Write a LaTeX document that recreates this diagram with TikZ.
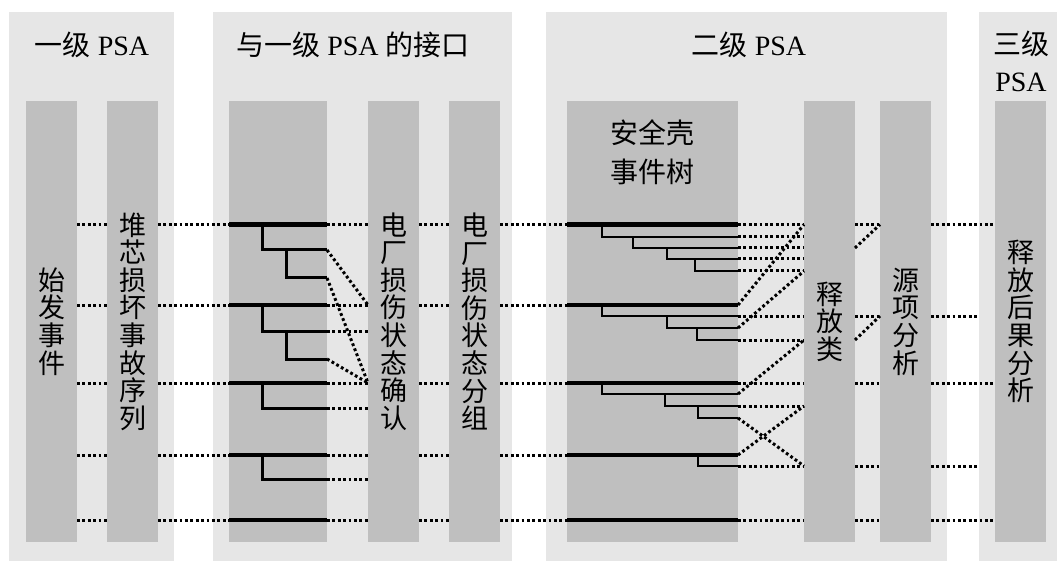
\documentclass[tikz,border=0pt]{standalone}
\usepackage{fontspec}
\setmainfont{Liberation Serif}
\newfontfamily\cjk{Noto Sans CJK SC}
\definecolor{panelgray}{HTML}{E6E6E6}
\definecolor{bargray}{HTML}{BFBFBF}
\begin{document}
\begin{tikzpicture}[x=1pt,y=-1pt,
  panel/.style={fill=panelgray, draw=none},
  barbox/.style={fill=bargray, draw=none, inner sep=0pt, outer sep=0pt,
    minimum width=51pt, minimum height=441pt, anchor=north west},
  dotline/.style={line width=3pt, dash pattern=on 2.8pt off 2.6pt},
  mainline/.style={line width=4.6pt},
  branchA/.style={line width=3pt},
  branchB/.style={line width=2.5pt},
  vtext/.style={align=center, inner sep=0pt, font=\cjk\fontsize{27}{27.6}\selectfont},
  ttl/.style={inner sep=0pt, font=\fontsize{28}{37}\selectfont}]
\useasboundingbox (0,0) rectangle (1057,561);
% panels
\fill[panel] (9,12) rectangle (174,561);
\fill[panel] (213,12) rectangle (512,561);
\fill[panel] (546,12) rectangle (947,561);
\fill[panel] (979,12) rectangle (1057,561);
\coordinate (p4w) at (979,0);
% bars
\node[barbox] (b1) at (26,101) {};
\node[barbox] (b2) at (107,101) {};
\node[barbox, minimum width=98pt] (et1) at (229,101) {};
\node[barbox] (cf) at (368,101) {};
\node[barbox] (gp) at (449,101) {};
\node[barbox, minimum width=171pt] (et2) at (567,101) {};
\node[barbox] (rc) at (804,101) {};
\node[barbox] (st) at (880,101) {};
\node[barbox] (l3) at (995,101) {};
% dotted connections, level 1 and interface
\foreach \y in {224.5,305,383,455,520}{
  \draw[dotline] (b1.east |- 0,\y) -- (b2.west |- 0,\y);
  \draw[dotline] (b2.east |- 0,\y) -- (et1.west |- 0,\y);
  \draw[dotline] (cf.east |- 0,\y) -- (gp.west |- 0,\y);
  \draw[dotline] (gp.east |- 0,\y) -- (et2.west |- 0,\y);
}
\foreach \y in {224.5,305,331,383,408,455,479,520}{
  \draw[dotline] (et1.east |- 0,\y) -- (cf.west |- 0,\y);
}
\draw[dotline] (et1.east |- 0,250) -- (cf.west |- 0,305);
\draw[dotline] (et1.east |- 0,278) -- (cf.west |- 0,383);
\draw[dotline] (et1.east |- 0,359) -- (cf.west |- 0,383);
% dotted connections, level 2
\foreach \y in {224.5,237,248,259,271,316,340,383,406,466,520}{
  \draw[dotline] (et2.east |- 0,\y) -- (rc.west |- 0,\y);
}
\draw[dotline] (et2.east |- 0,305) -- (rc.west |- 0,224.5);
\draw[dotline] (et2.east |- 0,328) -- (rc.west |- 0,271);
\draw[dotline] (et2.east |- 0,394) -- (rc.west |- 0,340);
\draw[dotline] (et2.east |- 0,418) -- (rc.west |- 0,466);
\draw[dotline] (et2.east |- 0,455) -- (rc.west |- 0,406);
\foreach \y in {224.5,316,383,466,520}{
  \draw[dotline] (rc.east |- 0,\y) -- (st.west |- 0,\y);
}
\draw[dotline] (rc.east |- 0,248) -- (st.west |- 0,224.5);
\draw[dotline] (rc.east |- 0,340) -- (st.west |- 0,316);
\foreach \y in {224.5,383,520}{
  \draw[dotline] (st.east |- 0,\y) -- (l3.west |- 0,\y);
}
\foreach \y in {316,466}{
  \draw[dotline] (st.east |- 0,\y) -- (p4w |- 0,\y);
}
% interface event tree
\draw[branchA] (262,224.5) |- (et1.east |- 0,250);
\draw[branchA] (286,250) |- (et1.east |- 0,278);
\draw[branchA] (262,305) |- (et1.east |- 0,331);
\draw[branchA] (286,331) |- (et1.east |- 0,359);
\draw[branchA] (262,383) |- (et1.east |- 0,408);
\draw[branchA] (262,455) |- (et1.east |- 0,479);
\foreach \y in {224.5,305,383,455,520}{
  \draw[mainline] (et1.west |- 0,\y) -- (et1.east |- 0,\y);
}
% containment event tree
\draw[branchB] (602,224.5) |- (et2.east |- 0,237);
\draw[branchB] (633,237) |- (et2.east |- 0,248);
\draw[branchB] (667,248) |- (et2.east |- 0,259);
\draw[branchB] (695,259) |- (et2.east |- 0,271);
\draw[branchB] (602,305) |- (et2.east |- 0,316);
\draw[branchB] (667,316) |- (et2.east |- 0,328);
\draw[branchB] (697,328) |- (et2.east |- 0,340);
\draw[branchB] (602,383) |- (et2.east |- 0,394);
\draw[branchB] (665,394) |- (et2.east |- 0,406);
\draw[branchB] (698,406) |- (et2.east |- 0,418);
\draw[branchB] (698,455) |- (et2.east |- 0,466);
\foreach \y in {224.5,305,383,455,520}{
  \draw[mainline] (et2.west |- 0,\y) -- (et2.east |- 0,\y);
}
% titles
\node[ttl] (t1) at (92,45) {{\cjk 一级} PSA};
\node[ttl] (t2) at (353,45) {{\cjk 与一级} PSA {\cjk 的接口}};
\node[ttl] (t3) at (749,45) {{\cjk 二级} PSA};
\node[ttl, align=center] (t4) at (1021,61.5) {{\cjk 三级}\\PSA};
% bar texts
\node[vtext] (b1t) at (b1.center) {始\\发\\事\\件};
\node[vtext] (b2t) at (b2.center) {堆\\芯\\损\\坏\\事\\故\\序\\列};
\node[vtext] (cft) at (cf.center) {电\\厂\\损\\伤\\状\\态\\确\\认};
\node[vtext] (gpt) at (gp.center) {电\\厂\\损\\伤\\状\\态\\分\\组};
\node[vtext, font=\cjk\fontsize{28}{39}\selectfont] (et2t) at (652.5,152.5) {安全壳\\事件树};
\node[vtext] (rct) at (rc.center) {释\\放\\类};
\node[vtext] (stt) at (st.center) {源\\项\\分\\析};
\node[vtext] (l3t) at (l3.center) {释\\放\\后\\果\\分\\析};
\end{tikzpicture}
\end{document}
